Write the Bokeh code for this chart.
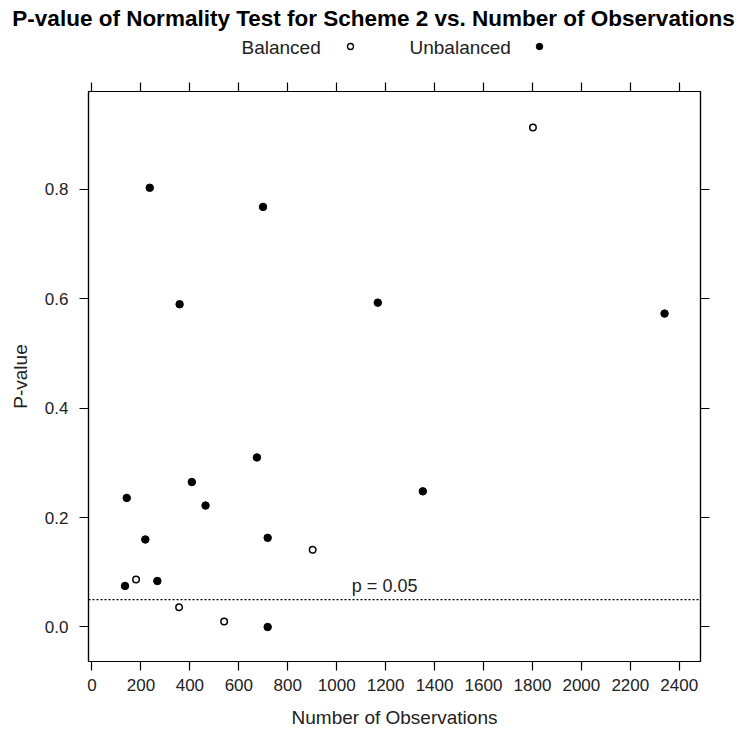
from bokeh.plotting import figure
from bokeh.layouts import column
from bokeh.models import (Range1d, LinearAxis, FixedTicker, PrintfTickFormatter,
                          CustomJSTickFormatter, Span, Label)
from bokeh.core.properties import value
from bokeh.embed import file_html
from bokeh.resources import INLINE

# Unbalanced designs: number of observations and p-value
unbalanced_n = [236, 699, 358, 1168, 2340, 674, 408, 464, 1352, 142, 218, 718, 267, 135, 718]
unbalanced_p = [0.803, 0.768, 0.590, 0.593, 0.573, 0.310, 0.265, 0.222, 0.248, 0.236,
                0.160, 0.163, 0.084, 0.075, 0.000]

# Balanced designs
balanced_n = [1802, 180, 902, 356, 540]
balanced_p = [0.913, 0.087, 0.141, 0.036, 0.010]

x_ticks = [0, 200, 400, 600, 800, 1000, 1200, 1400, 1600, 1800, 2000, 2200, 2400]
y_ticks = [0.0, 0.2, 0.4, 0.6, 0.8]
alpha_level = 0.05

title_text = "P-value of Normality Test for Scheme 2 vs. Number of Observations"
x_label = "Number of Observations"
y_label = "P-value"
legend_labels = ["Balanced", "Unbalanced"]

FONT = "Liberation Sans"
INK = "#222222"
HEADER_H = 82

# ---- header: title and key (pixel coordinates, y downward) ----
head = figure(width=742, height=HEADER_H, output_backend="svg", toolbar_location=None,
              x_range=Range1d(0, 742), y_range=Range1d(HEADER_H, 0),
              x_axis_location=None, y_axis_location=None,
              min_border=0, outline_line_color=None)
head.frame_align = False
head.xgrid.visible = False
head.ygrid.visible = False

head.text(x=[373], y=[18], text=[title_text], text_font=value(FONT),
          text_font_size="22.5px", text_font_style="bold", text_color="black",
          text_align="center", text_baseline="middle")
head.text(x=[241, 409], y=[47, 47], text=legend_labels, text_font=value(FONT),
          text_font_size="19px", text_color=INK, text_align="left",
          text_baseline="middle")
head.scatter(x=[350], y=[46], marker="circle", size=6, fill_color="white",
             line_color="black", line_width=1.3)
head.scatter(x=[539], y=[46], marker="circle", size=6.5, fill_color="black",
             line_color="black")

# ---- main panel ----
p = figure(width=742, height=730 - HEADER_H, output_backend="svg", toolbar_location=None,
           x_range=Range1d(-14.3, 2486.9), y_range=Range1d(-0.0631, 0.979),
           x_axis_location=None, y_axis_location=None,
           min_border_left=88, min_border_right=42,
           min_border_top=91 - HEADER_H, min_border_bottom=69)
p.frame_align = False
p.background_fill_color = "white"
p.border_fill_color = "white"
p.outline_line_color = "black"
p.outline_line_width = 1.2
p.xgrid.visible = False
p.ygrid.visible = False


def make_axis(ticks, labelled, fmt=None, title=None):
    ax = LinearAxis(ticker=FixedTicker(ticks=ticks))
    ax.axis_line_color = "black"
    ax.axis_line_width = 1.2
    ax.major_tick_line_color = "black"
    ax.major_tick_line_width = 1.2
    ax.major_tick_in = 0
    ax.major_tick_out = 9
    ax.minor_tick_line_color = None
    ax.major_label_text_font = FONT
    ax.major_label_text_font_size = "17px"
    ax.major_label_text_color = INK
    ax.major_label_standoff = 10
    if labelled:
        if fmt is not None:
            ax.formatter = fmt
        if title is not None:
            ax.axis_label = title
            ax.axis_label_text_font = FONT
            ax.axis_label_text_font_size = "19px"
            ax.axis_label_text_font_style = "normal"
            ax.axis_label_text_color = INK
    else:
        ax.formatter = CustomJSTickFormatter(code="return ''")
    return ax


xa = make_axis(x_ticks, True, PrintfTickFormatter(format="%d"), x_label)
xa.major_label_standoff = 8
xa.axis_label_standoff = 13
ya = make_axis(y_ticks, True, PrintfTickFormatter(format="%.1f"), y_label)
ya.major_label_standoff = 11
ya.axis_label_standoff = 11
p.add_layout(xa, "below")
p.add_layout(make_axis(x_ticks, False), "above")
p.add_layout(ya, "left")
p.add_layout(make_axis(y_ticks, False), "right")

# reference line at the 5% level
p.add_layout(Span(location=alpha_level, dimension="width", line_color="black",
                  line_width=1.2, line_dash="2 2"))
p.add_layout(Label(x=1062, y=alpha_level, y_offset=14, text="p = 0.05",
                   text_font=FONT, text_font_size="18px", text_color=INK,
                   text_baseline="alphabetic", text_align="left"))

# points
p.scatter(unbalanced_n, unbalanced_p, marker="circle", size=7.5,
          fill_color="black", line_color="black")
p.scatter(balanced_n, balanced_p, marker="circle", size=6.5,
          fill_color="white", line_color="black", line_width=1.5)

layout = column(head, p, spacing=0)
open("out.html", "w").write(file_html(layout, INLINE))
